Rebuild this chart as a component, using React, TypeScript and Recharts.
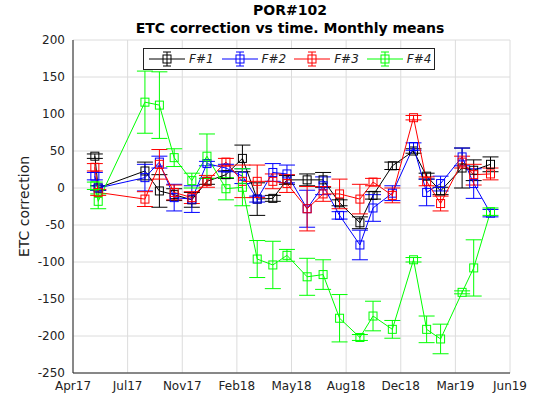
import React from 'react';
import { ComposedChart, Line, XAxis, YAxis, CartesianGrid, ErrorBar } from 'recharts';

const months = [1.3,1.5,4.28,5.14,6.02,7.07,7.97,9.1,10.08,10.96,11.89,12.73,13.93,14.88,15.86,17.07,17.85,19,20.26,21.04,21.87,23.15,23.84,24.84];
const f1 = [43,0,23,-4,-9,-16,9,18,40,-15,-14,11,11,11,-20,-47,-10,30,50,16,-4,27,24,32];
const f1e = [3,3,12,22,8,10,4,5,18,22,4,6,8,10,4,8,5,5,3,4,5,27,14,10];
const f2 = [16,0,14,35,-13,-15,33,27,16,-15,21,19,-28,3,-37,-77,-27,-7,56,-6,6,42,6,-34];
const f2e = [5,3,18,8,18,18,3,5,10,4,12,12,25,12,5,20,18,10,5,18,10,12,20,5];
const f3 = [28,-6,-15,32,-6,-13,9,35,9,9,9,6,-28,-8,-8,-15,8,-10,95,9,-21,35,18,19];
const f3e = [5,4,10,20,10,8,8,5,22,22,10,12,30,10,20,20,5,10,3,6,10,8,14,8];
const f4 = [3,-18,116,112,41,10,43,-1,1,-96,-104,-91,-120,-117,-176,-202,-173,-191,-97,-191,-204,-141,-108,-32];
const f4e = [5,10,42,45,12,10,30,15,25,25,32,8,25,20,32,4,20,12,3,18,20,2,38,5];
const xTicks = [0,3.25,6.5,9.75,13,16.25,19.5,22.75,26];
const xLabels = ['Apr17','Jul17','Nov17','Feb18','May18','Aug18','Dec18','Mar19','Jun19'];
const yTicks = [-250,-200,-150,-100,-50,0,50,100,150,200];

const series = [
  { key: 'f1', name: 'F#1', color: '#000000', v: f1, e: f1e },
  { key: 'f2', name: 'F#2', color: '#0000ff', v: f2, e: f2e },
  { key: 'f3', name: 'F#3', color: '#ff0000', v: f3, e: f3e },
  { key: 'f4', name: 'F#4', color: '#00ff00', v: f4, e: f4e },
];

const data = months.map((m, i) => {
  const r: any = { x: m };
  series.forEach(s => { r[s.key] = s.v[i]; r[s.key + 'e'] = s.e[i]; });
  return r;
});

const sq = (color: string) => (p: any) => (
  <rect key={p.index} x={p.cx - 4} y={p.cy - 4} width={8} height={8} fill="none" stroke={color} strokeWidth={1} />
);

const font = 'DejaVu Sans, sans-serif';

export default function App() {
  return (
    <div style={{ position: 'absolute', left: 0, top: 0, width: 560, height: 420, background: '#fff', fontFamily: font }}>
      <div style={{ position: 'absolute', top: 1, width: 560, textAlign: 'center', fontWeight: 'bold', fontSize: 14, lineHeight: '18px', marginLeft: 10 }}>
        POR#102<br />ETC correction vs time. Monthly means
      </div>
      <ComposedChart width={560} height={420} data={data} margin={{ top: 40, right: 50, bottom: 17, left: 33 }}>
        <CartesianGrid stroke="#dcdcdc" />
        <XAxis dataKey="x" type="number" domain={[0, 26]} ticks={xTicks} tickFormatter={(v: number) => xLabels[xTicks.indexOf(v)]} tick={{ fill: '#222', fontSize: 12, fontFamily: font }} stroke="#222" tickLine={false} height={30} allowDataOverflow />
        <XAxis xAxisId="top" orientation="top" type="number" domain={[0, 26]} ticks={xTicks} tick={false} stroke="#222" tickLine={false} height={0} />
        <YAxis domain={[-250, 200]} ticks={yTicks} tick={{ fill: '#222', fontSize: 12, fontFamily: font }} stroke="#222" tickLine={false} width={40}
          label={{ value: 'ETC correction', angle: -90, position: 'insideLeft', offset: -9, style: { fill: '#222', fontSize: 14, textAnchor: 'middle', fontFamily: font } }} />
        <YAxis yAxisId="right" orientation="right" domain={[-250, 200]} ticks={yTicks} tick={false} stroke="#222" tickLine={false} width={0} />
        {series.map(s => (
          <Line key={s.key} dataKey={s.key} stroke={s.color} strokeWidth={1} dot={sq(s.color)} isAnimationActive={false} activeDot={false}>
            <ErrorBar dataKey={s.key + 'e'} stroke={s.color} width={8} strokeWidth={1} direction="y" />
          </Line>
        ))}
      </ComposedChart>
      <div style={{ position: 'absolute', left: 143, top: 48, width: 290, height: 20, border: '1px solid #222', background: '#fff', display: 'flex', alignItems: 'center', fontSize: 12, fontStyle: 'italic' }}>
        {series.map(s => (
          <div key={s.key} style={{ display: 'flex', alignItems: 'center', marginLeft: 3 }}>
            <svg width={40} height={16}>
              <line x1={2} x2={38} y1={8} y2={8} stroke={s.color} />
              <rect x={16} y={4} width={8} height={8} fill="none" stroke={s.color} />
              <line x1={20} x2={20} y1={1} y2={15} stroke={s.color} />
              <line x1={16} x2={24} y1={1} y2={1} stroke={s.color} />
              <line x1={16} x2={24} y1={15} y2={15} stroke={s.color} />
            </svg>
            <span style={{ marginLeft: 2, marginRight: 3, color: '#222' }}>{s.name}</span>
          </div>
        ))}
      </div>
    </div>
  );
}
